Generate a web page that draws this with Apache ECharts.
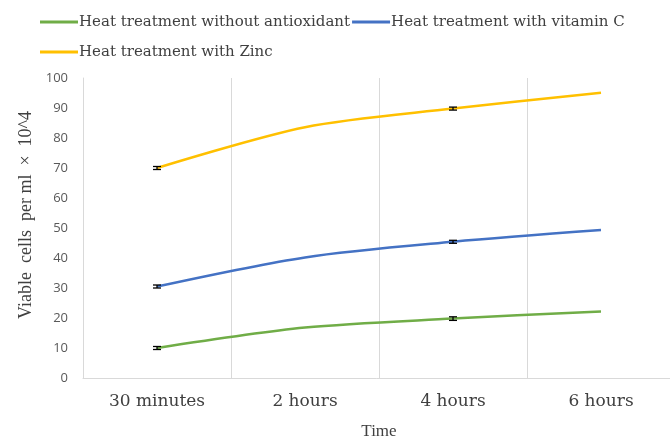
<!DOCTYPE html>
<html>
<head>
<meta charset="utf-8">
<script src="https://cdn.jsdelivr.net/npm/echarts@6/dist/echarts.min.js"></script>
<style>
html, body { margin: 0; padding: 0; background: #fff; }
#chart { width: 670px; height: 442px; }
</style>
</head>
<body>
<div id="chart"></div>
<script>
// 数据
var categories = ['30 minutes', '2 hours', '4 hours', '6 hours'];
var noAntiox = [10, 16.8, 19.8, 22.2];
var vitaminC = [30.5, 40.2, 45.4, 49.3];
var zinc = [70, 83.6, 89.8, 95.1];
var errNoAntiox = [0.5, 0, 0.6, 0];
var errVitaminC = [0.5, 0, 0.5, 0];
var errZinc = [0.5, 0, 0.5, 0];

var serif = '"Liberation Serif", "Times New Roman", serif';
var wideSerif = '"DejaVu Serif", serif';

function error_series(vals, errs) {
    // 误差线，只在有误差的点画
    var data = [];
    for (var i = 0; i < vals.length; i++) {
        if (errs[i] > 0) data.push([i, vals[i] - errs[i], vals[i] + errs[i]]);
    }
    return {
        type: 'custom',
        silent: true,
        z: 5,
        data: data,
        renderItem: function (params, api) {
            var x = api.coord([api.value(0), api.value(1)])[0];
            var lo = api.coord([api.value(0), api.value(1)])[1];
            var hi = api.coord([api.value(0), api.value(2)])[1];
            var st = {stroke: '#000', lineWidth: 1.3};
            return {
                type: 'group',
                children: [
                    {type: 'line', shape: {x1: x, y1: lo, x2: x, y2: hi}, style: st},
                    {type: 'line', shape: {x1: x - 4, y1: lo, x2: x + 4, y2: lo}, style: st},
                    {type: 'line', shape: {x1: x - 4, y1: hi, x2: x + 4, y2: hi}, style: st}
                ]
            };
        }
    };
}

function line_series(name, vals, color) {
    return {
        name: name,
        type: 'line',
        data: vals,
        smooth: 0.3,
        symbol: 'none',
        lineStyle: {color: color, width: 2.5},
        itemStyle: {color: color}
    };
}

var chart = echarts.init(document.getElementById('chart'));
var option = {
    animation: false,
    legend: {
        left: 40,
        top: 8,
        width: 610,
        padding: 0,
        itemGap: 2,
        itemWidth: 38,
        itemHeight: 3,
        icon: 'rect',
        textStyle: {fontFamily: wideSerif, fontSize: 15, color: '#404040', lineHeight: 28, padding: [0, 0, 0, -4]},
        data: ['Heat treatment without antioxidant', 'Heat treatment with vitamin C', 'Heat treatment with Zinc']
    },
    grid: {left: 83, right: -5, top: 78, bottom: 64, containLabel: false, outerBoundsMode: 'none'},
    xAxis: {
        type: 'category',
        data: categories,
        boundaryGap: true,
        name: 'Time',
        nameLocation: 'middle',
        nameGap: 45,
        nameTextStyle: {fontFamily: serif, fontSize: 17, color: '#404040'},
        axisLine: {lineStyle: {color: '#d9d9d9', width: 1}},
        axisTick: {show: false},
        axisLabel: {fontFamily: wideSerif, fontSize: 17, color: '#404040', margin: 15},
        splitLine: {show: true, lineStyle: {color: '#d9d9d9', width: 1}}
    },
    yAxis: {
        type: 'value',
        min: 0,
        max: 100,
        interval: 10,
        name: 'Viable  cells  per ml  \u00d7  10^4',
        nameLocation: 'middle',
        nameGap: 47,
        nameTextStyle: {fontFamily: serif, fontSize: 18, color: '#404040', padding: [0, 0, 0, 26]},
        axisLine: {show: true, lineStyle: {color: '#d9d9d9', width: 1}},
        axisTick: {show: false},
        axisLabel: {fontFamily: '"Open Sans", "DejaVu Sans", sans-serif', fontSize: 13, color: '#595959', margin: 15},
        splitLine: {show: false}
    },
    series: [
        line_series('Heat treatment without antioxidant', noAntiox, '#70AD47'),
        line_series('Heat treatment with vitamin C', vitaminC, '#4472C4'),
        line_series('Heat treatment with Zinc', zinc, '#FFC000'),
        error_series(noAntiox, errNoAntiox),
        error_series(vitaminC, errVitaminC),
        error_series(zinc, errZinc)
    ]
};
chart.setOption(option);
</script>
</body>
</html>
